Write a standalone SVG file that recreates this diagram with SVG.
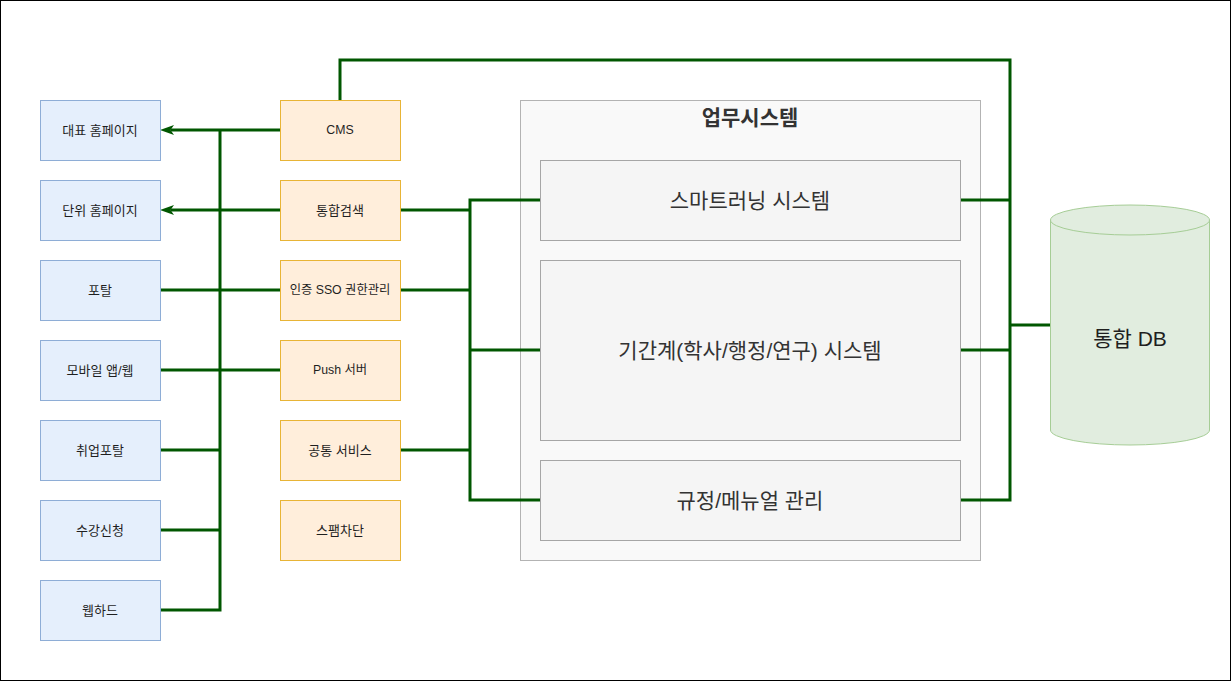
<svg xmlns="http://www.w3.org/2000/svg" width="1231" height="681" viewBox="0 0 1231 681">
<defs>
<style>
.bg{fill:#ffffff;stroke:#000000;stroke-width:1}
.blue{fill:#e5effc;stroke:#8eadd6;stroke-width:1}
.orange{fill:#ffeedb;stroke:#e8b436;stroke-width:1}
.cont{fill:#f9f9f9;stroke:#b3b3b3;stroke-width:1}
.inner{fill:#f5f5f5;stroke:#a6a6a6;stroke-width:1}
.db{fill:#e1eddf;stroke:#a6cd96;stroke-width:1}
.t{font-family:"Liberation Sans","Noto Sans CJK KR",sans-serif;font-size:13px;fill:#1f1f1f;text-anchor:middle;dominant-baseline:central}
.tm{font-family:"Liberation Sans","Noto Sans CJK KR",sans-serif;font-size:12.3px;fill:#1f1f1f;text-anchor:middle;dominant-baseline:central}
.tb{font-family:"Liberation Sans","Noto Sans CJK KR",sans-serif;font-size:21px;fill:#333333;text-anchor:middle;dominant-baseline:central}
.title{font-family:"Liberation Sans","Noto Sans CJK KR",sans-serif;font-size:21px;font-weight:bold;fill:#333333;text-anchor:middle;dominant-baseline:central}
.tdb{font-family:"Liberation Sans","Noto Sans CJK KR",sans-serif;font-size:21px;fill:#1f1f1f;text-anchor:middle;dominant-baseline:central}
.c{fill:none;stroke:#005700;stroke-width:3}
</style>
<marker id="arr" viewBox="0 0 14 10" refX="3.5" refY="5" markerWidth="14" markerHeight="10" markerUnits="userSpaceOnUse" orient="auto">
<path d="M0,0 L14,5 L0,10 L3.5,5 Z" fill="#005700"/>
</marker>
</defs>
<rect class="bg" x="0.5" y="0.5" width="1230" height="680"/>

<g id="n-biz"><rect class="cont" x="520.5" y="100.5" width="460" height="460"/><text class="title" x="750" y="117">업무시스템</text></g>

<g id="connectors">
<path class="c" d="M280,130 H170.5" marker-end="url(#arr)"/>
<path class="c" d="M280,210 H170.5" marker-end="url(#arr)"/>
<path class="c" d="M160,290 H280"/>
<path class="c" d="M160,370 H280"/>
<path class="c" d="M160,450 H220"/>
<path class="c" d="M160,530 H220"/>
<path class="c" d="M160,610 H220 V130"/>
<path class="c" d="M400,210 H470"/>
<path class="c" d="M400,290 H470"/>
<path class="c" d="M400,450 H470"/>
<path class="c" d="M540,200 H470 V500 H540"/>
<path class="c" d="M470,350 H540"/>
<path class="c" d="M340,100 V60 H1010 V500 H960"/>
<path class="c" d="M960,200 H1010"/>
<path class="c" d="M960,350 H1010"/>
<path class="c" d="M1010,325 H1050"/>
</g>

<g id="n-rep"><rect class="blue" x="40.5" y="100.5" width="120" height="60"/><text class="t" x="100" y="130">대표 홈페이지</text></g>
<g id="n-unit"><rect class="blue" x="40.5" y="180.5" width="120" height="60"/><text class="t" x="100" y="210">단위 홈페이지</text></g>
<g id="n-portal"><rect class="blue" x="40.5" y="260.5" width="120" height="60"/><text class="t" x="100" y="290">포탈</text></g>
<g id="n-mobile"><rect class="blue" x="40.5" y="340.5" width="120" height="60"/><text class="t" x="100" y="370">모바일 앱/웹</text></g>
<g id="n-job"><rect class="blue" x="40.5" y="420.5" width="120" height="60"/><text class="t" x="100" y="450">취업포탈</text></g>
<g id="n-course"><rect class="blue" x="40.5" y="500.5" width="120" height="60"/><text class="t" x="100" y="530">수강신청</text></g>
<g id="n-webhard"><rect class="blue" x="40.5" y="580.5" width="120" height="60"/><text class="t" x="100" y="610">웹하드</text></g>

<g id="n-cms"><rect class="orange" x="280.5" y="100.5" width="120" height="60"/><text class="tm" x="340" y="130">CMS</text></g>
<g id="n-search"><rect class="orange" x="280.5" y="180.5" width="120" height="60"/><text class="t" x="340" y="210">통합검색</text></g>
<g id="n-sso"><rect class="orange" x="280.5" y="260.5" width="120" height="60"/><text class="tm" x="340" y="290">인증 SSO 권한관리</text></g>
<g id="n-push"><rect class="orange" x="280.5" y="340.5" width="120" height="60"/><text class="tm" x="340" y="370">Push 서버</text></g>
<g id="n-common"><rect class="orange" x="280.5" y="420.5" width="120" height="60"/><text class="t" x="340" y="450">공통 서비스</text></g>
<g id="n-spam"><rect class="orange" x="280.5" y="500.5" width="120" height="60"/><text class="t" x="340" y="530">스팸차단</text></g>

<g id="n-smart"><rect class="inner" x="540.5" y="160.5" width="420" height="80"/><text class="tb" x="750" y="200">스마트러닝 시스템</text></g>
<g id="n-core"><rect class="inner" x="540.5" y="260.5" width="420" height="180"/><text class="tb" x="750" y="350">기간계(학사/행정/연구) 시스템</text></g>
<g id="n-rule"><rect class="inner" x="540.5" y="460.5" width="420" height="80"/><text class="tb" x="750" y="500">규정/메뉴얼 관리</text></g>

<g id="n-db">
<path class="db" d="M1050.5,220 A79.5,15 0 0 1 1209.5,220 V430 A79.5,15 0 0 1 1050.5,430 Z"/>
<path class="db" d="M1050.5,220 A79.5,15 0 0 0 1209.5,220" fill="none"/>
<text class="tdb" x="1130" y="338">통합 DB</text>
</g>
</svg>
